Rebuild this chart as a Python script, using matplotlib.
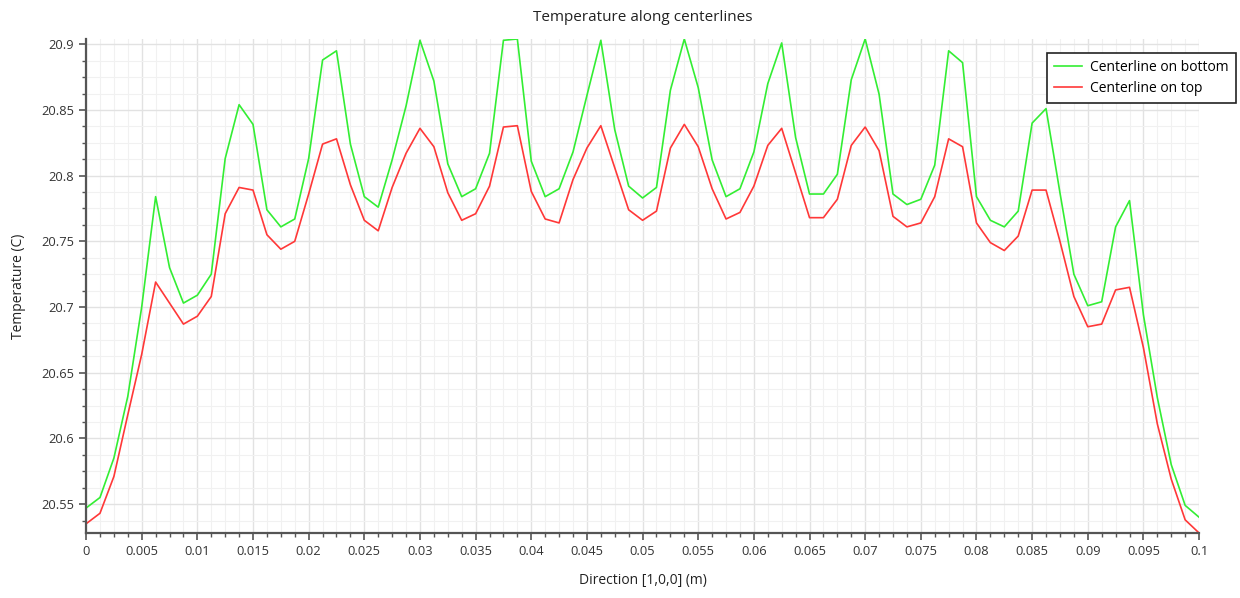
import numpy as np
import matplotlib
matplotlib.use("Agg")
import matplotlib.pyplot as plt
from matplotlib.ticker import MultipleLocator, AutoMinorLocator

plt.rcParams['font.family'] = ['Open Sans', 'DejaVu Sans']

# Position along the centerline, 81 samples from 0 to 0.1 m
position_m = np.linspace(0.0, 0.1, 81)

temp_bottom = [
    20.547, 20.555, 20.585, 20.632, 20.700, 20.784, 20.730, 20.703, 20.709, 20.725,
    20.813, 20.854, 20.839, 20.774, 20.761, 20.767, 20.813, 20.888, 20.895, 20.824,
    20.784, 20.776, 20.812, 20.853, 20.903, 20.872, 20.809, 20.784, 20.790, 20.817,
    20.903, 20.904, 20.811, 20.784, 20.790, 20.818, 20.861, 20.903, 20.835, 20.792,
    20.783, 20.791, 20.865, 20.904, 20.867, 20.812, 20.784, 20.790, 20.818, 20.870,
    20.901, 20.829, 20.786, 20.786, 20.801, 20.873, 20.904, 20.862, 20.786, 20.778,
    20.782, 20.808, 20.895, 20.886, 20.784, 20.766, 20.761, 20.773, 20.840, 20.851,
    20.787, 20.725, 20.701, 20.704, 20.761, 20.781, 20.694, 20.631, 20.580, 20.549,
    20.540,
]

temp_top = [
    20.535, 20.543, 20.571, 20.618, 20.664, 20.719, 20.703, 20.687, 20.693, 20.708,
    20.771, 20.791, 20.789, 20.755, 20.744, 20.750, 20.786, 20.824, 20.828, 20.793,
    20.766, 20.758, 20.791, 20.817, 20.836, 20.822, 20.787, 20.766, 20.771, 20.792,
    20.837, 20.838, 20.788, 20.767, 20.764, 20.797, 20.821, 20.838, 20.806, 20.774,
    20.766, 20.773, 20.821, 20.839, 20.822, 20.790, 20.767, 20.772, 20.792, 20.823,
    20.836, 20.802, 20.768, 20.768, 20.782, 20.823, 20.837, 20.819, 20.769, 20.761,
    20.764, 20.784, 20.828, 20.822, 20.764, 20.749, 20.743, 20.754, 20.789, 20.789,
    20.750, 20.708, 20.685, 20.687, 20.713, 20.715, 20.669, 20.611, 20.569, 20.538,
    20.528,
]

fig = plt.figure(figsize=(12.4, 5.98), dpi=100)
ax = fig.add_axes([0.0694, 0.1087, 0.8976, 0.8261])

ax.plot(position_m, temp_bottom, color="#33ee33", lw=1.2, label="Centerline on bottom")
ax.plot(position_m, temp_top, color="#ff3838", lw=1.2, label="Centerline on top")

ax.set_xlim(0, 0.1)
ax.set_ylim(20.528, 20.904)

ax.xaxis.set_major_locator(MultipleLocator(0.005))
ax.xaxis.set_minor_locator(AutoMinorLocator(4))
ax.yaxis.set_major_locator(MultipleLocator(0.05))
ax.yaxis.set_minor_locator(AutoMinorLocator(4))

ax.set_xticklabels([f"{v:g}" for v in ax.get_xticks()])
ax.set_yticklabels([f"{v:g}" for v in ax.get_yticks()])

ax.grid(True, which="major", color="#e2e2e2", lw=1.0)
ax.grid(True, which="minor", color="#f1f1f1", lw=0.8)
ax.set_axisbelow(True)

for side in ("top", "right"):
    ax.spines[side].set_visible(False)
for side in ("left", "bottom"):
    ax.spines[side].set_color("#555555")
    ax.spines[side].set_linewidth(1.6)

ax.tick_params(which="major", length=5, width=1.2, color="#555555", labelsize=9.3, labelcolor="#333333")
ax.tick_params(which="minor", length=3, width=1.0, color="#555555")

ax.set_title("Temperature along centerlines", fontsize=11, color="#222222", pad=13)
ax.set_xlabel("Direction [1,0,0] (m)", fontsize=10, color="#222222", labelpad=11)
ax.set_ylabel("Temperature (C)", fontsize=10, color="#222222", labelpad=11)

leg = ax.legend(loc="upper right", bbox_to_anchor=(1236 / 1240, 1 - 53 / 598),
                bbox_transform=fig.transFigure, fontsize=10, frameon=True,
                fancybox=False, edgecolor="#222222", borderaxespad=0,
                handlelength=2.0, borderpad=0.5, labelspacing=0.45, handletextpad=0.6)
leg.get_frame().set_linewidth(1.2)
leg.get_frame().set_alpha(1)

fig.savefig("out.png", dpi=100)
